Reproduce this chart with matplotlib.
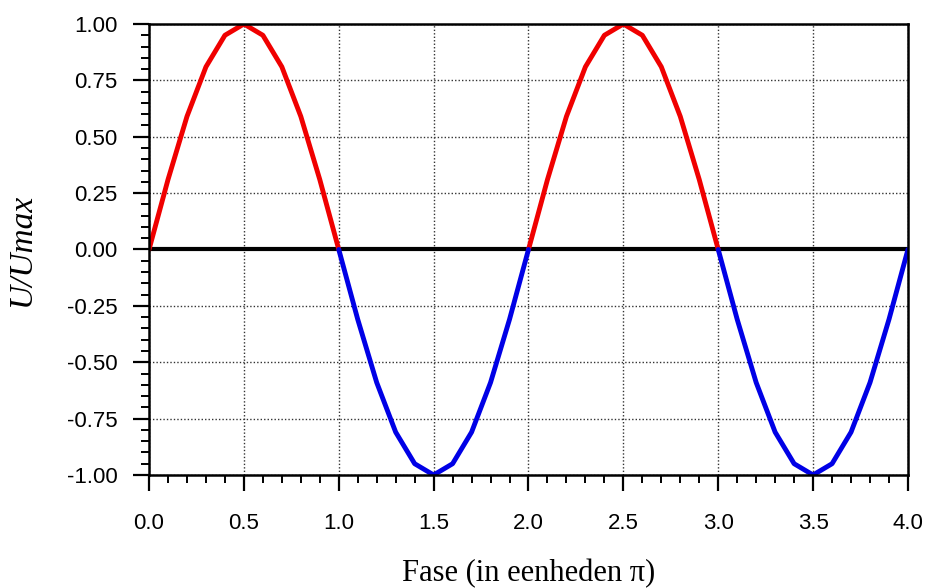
import numpy as np
import matplotlib
matplotlib.use("Agg")
import matplotlib.pyplot as plt
from matplotlib.ticker import MultipleLocator

# phase in units of pi (step 0.1)
phase = [0.0, 0.1, 0.2, 0.3, 0.4, 0.5, 0.6, 0.7, 0.8, 0.9, 1.0,
         1.1, 1.2, 1.3, 1.4, 1.5, 1.6, 1.7, 1.8, 1.9, 2.0,
         2.1, 2.2, 2.3, 2.4, 2.5, 2.6, 2.7, 2.8, 2.9, 3.0,
         3.1, 3.2, 3.3, 3.4, 3.5, 3.6, 3.7, 3.8, 3.9, 4.0]
u_rel = [0.00, 0.31, 0.59, 0.81, 0.95, 1.00, 0.95, 0.81, 0.59, 0.31, 0.00,
         -0.31, -0.59, -0.81, -0.95, -1.00, -0.95, -0.81, -0.59, -0.31, 0.00,
         0.31, 0.59, 0.81, 0.95, 1.00, 0.95, 0.81, 0.59, 0.31, 0.00,
         -0.31, -0.59, -0.81, -0.95, -1.00, -0.95, -0.81, -0.59, -0.31, 0.00]

x = np.array(phase)
u = np.array(u_rel)
# positive half-waves red, negative ones blue (zeros belong to both)
pos = np.where(u >= 0, u, np.nan)
neg = np.where(u <= 0, u, np.nan)

fig = plt.figure(figsize=(9.28, 5.88), dpi=100)
ax = fig.add_axes([0.1606, 0.1922, 0.8178, 0.767])

ax.grid(True, which="major", linestyle=(0, (1, 1.5)), color="#333333", linewidth=1.0)
ax.axhline(0, color="black", linewidth=3.0, zorder=3)
ax.plot(x, pos, color="#f00000", linewidth=3.5, zorder=4, solid_capstyle="round",
        solid_joinstyle="round")
ax.plot(x, neg, color="#0000e6", linewidth=3.5, zorder=4, solid_capstyle="round",
        solid_joinstyle="round")

ax.set_xlim(0, 4)
ax.set_ylim(-1, 1)
ax.xaxis.set_major_locator(MultipleLocator(0.5))
ax.xaxis.set_minor_locator(MultipleLocator(0.1))
ax.yaxis.set_major_locator(MultipleLocator(0.25))
ax.yaxis.set_minor_locator(MultipleLocator(0.05))
ax.xaxis.set_major_formatter(plt.FormatStrFormatter("%.1f"))
ax.yaxis.set_major_formatter(plt.FormatStrFormatter("%.2f"))

for s in ax.spines.values():
    s.set_linewidth(1.8)
    s.set_zorder(5)

ax.tick_params(which="major", direction="out", length=11.5, width=1.6, labelsize=16)
ax.tick_params(axis="x", which="major", pad=16)
ax.tick_params(axis="y", which="major", pad=11)
ax.tick_params(which="minor", direction="out", length=6, width=1.4)
for lab in ax.get_xticklabels() + ax.get_yticklabels():
    lab.set_fontfamily("Liberation Sans")

ax.set_xlabel("Fase (in eenheden \u03c0)", fontfamily="Liberation Serif",
              fontsize=22, labelpad=18)
ax.set_ylabel("U/Umax", fontfamily="Liberation Serif", fontstyle="italic",
              fontsize=24, labelpad=22)

fig.savefig("out.png", dpi=100)
